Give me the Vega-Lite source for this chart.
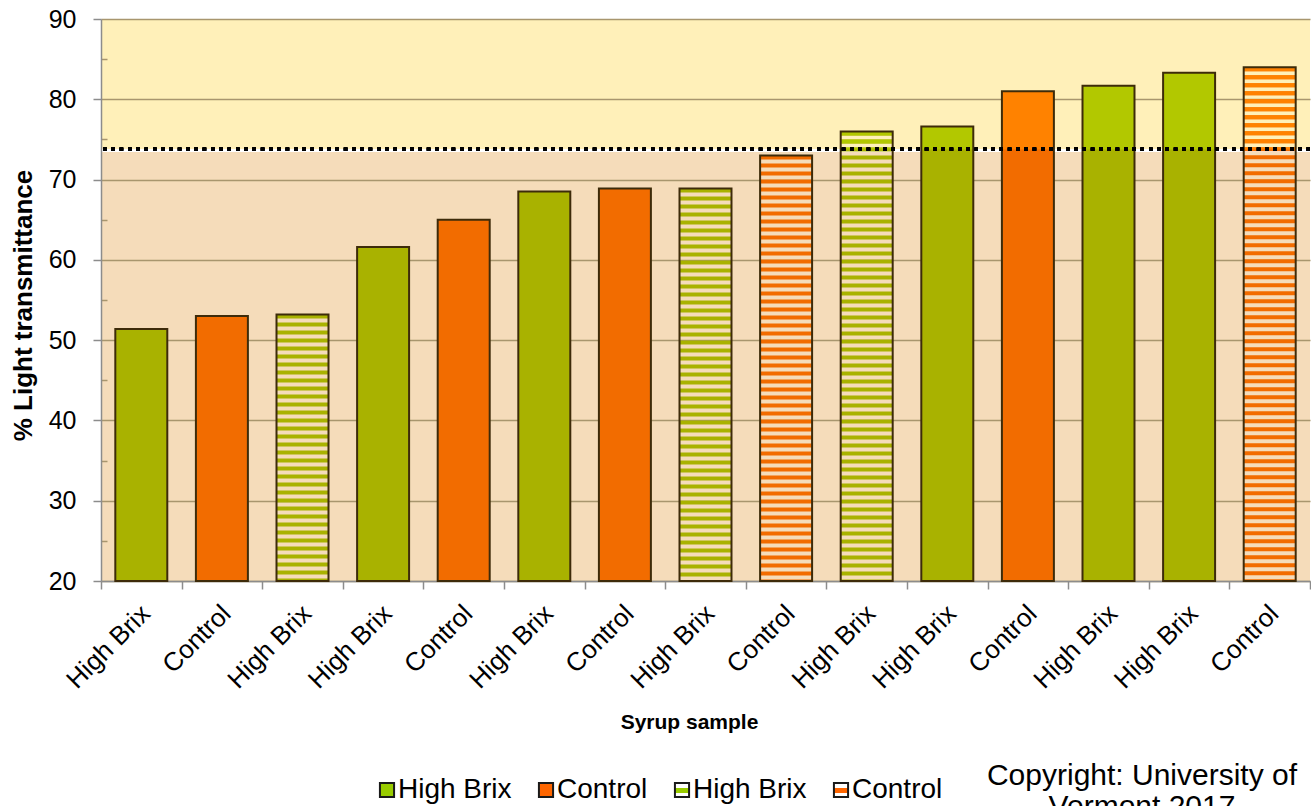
{
  "$schema": "https://vega.github.io/schema/vega-lite/v6.json",
  "width": 1209,
  "height": 562,
  "autosize": {"type": "none"},
  "padding": {"left": 101, "top": 19, "right": 1, "bottom": 225},
  "background": "white",
  "view": {
    "stroke": null,
    "fill": {
      "gradient": "linear", "x1": 0, "y1": 0, "x2": 0, "y2": 1,
      "stops": [
        {"offset": 0, "color": "#FFF0B9"},
        {"offset": 0.2313, "color": "#FFF0B9"},
        {"offset": 0.2313, "color": "#FFFFFF"},
        {"offset": 0.2367, "color": "#FFFFFF"},
        {"offset": 0.2367, "color": "#F5DCBA"},
        {"offset": 1, "color": "#F5DCBA"}
      ]
    }
  },
  "config": {
    "font": "Liberation Sans",
    "axis": {"labelColor": "black", "titleColor": "black", "labelFont": "Liberation Sans", "titleFont": "Liberation Sans"},
    "legend": {"labelFont": "Liberation Sans"}
  },
  "title": {
    "text": ["Copyright: University of", "Vermont 2017"],
    "orient": "bottom",
    "anchor": "end",
    "frame": "group",
    "align": "center",
    "dx": -168,
    "offset": -43,
    "fontSize": 30,
    "fontWeight": "normal",
    "font": "Liberation Sans",
    "color": "black",
    "lineHeight": 31
  },
  "data": {
    "values": [
      {"id": "01 High Brix", "crop": "High Brix", "kind": "solid", "legend": "1 High Brix", "value": 51.4},
      {"id": "02 Control", "crop": "Control", "kind": "solid", "legend": "2 Control", "value": 53.0},
      {"id": "03 High Brix", "crop": "High Brix", "kind": "striped", "legend": "3 High Brix", "value": 53.2},
      {"id": "04 High Brix", "crop": "High Brix", "kind": "solid", "legend": "1 High Brix", "value": 61.6},
      {"id": "05 Control", "crop": "Control", "kind": "solid", "legend": "2 Control", "value": 65.0},
      {"id": "06 High Brix", "crop": "High Brix", "kind": "solid", "legend": "1 High Brix", "value": 68.5},
      {"id": "07 Control", "crop": "Control", "kind": "solid", "legend": "2 Control", "value": 68.9},
      {"id": "08 High Brix", "crop": "High Brix", "kind": "striped", "legend": "3 High Brix", "value": 68.9},
      {"id": "09 Control", "crop": "Control", "kind": "striped", "legend": "4 Control", "value": 73.0},
      {"id": "10 High Brix", "crop": "High Brix", "kind": "striped", "legend": "3 High Brix", "value": 76.0},
      {"id": "11 High Brix", "crop": "High Brix", "kind": "solid", "legend": "1 High Brix", "value": 76.6},
      {"id": "12 Control", "crop": "Control", "kind": "solid", "legend": "2 Control", "value": 81.0},
      {"id": "13 High Brix", "crop": "High Brix", "kind": "solid", "legend": "1 High Brix", "value": 81.7},
      {"id": "14 High Brix", "crop": "High Brix", "kind": "solid", "legend": "1 High Brix", "value": 83.3},
      {"id": "15 Control", "crop": "Control", "kind": "striped", "legend": "4 Control", "value": 84.0}
    ]
  },
  "layer": [
    {
      "mark": {"type": "bar", "width": {"band": 0.645}, "stroke": "#1A1A1A", "strokeWidth": 2},
      "encoding": {
        "x": {
          "field": "id", "type": "nominal",
          "scale": {"paddingInner": 0, "paddingOuter": 0},
          "axis": {
            "title": "Syrup sample",
            "labelExpr": "substring(datum.label, 3)",
            "labelAngle": -45,
            "labelAlign": "right",
            "labelBaseline": "top",
            "labelFontSize": 26,
            "labelPadding": 11,
            "labelOffset": -5,
            "tickBand": "extent",
            "tickSize": 8,
            "tickWidth": 1.5,
            "tickColor": "#8C8C8C",
            "domainColor": "#8C8C8C",
            "domainWidth": 1.5,
            "grid": false,
            "titleFontSize": 21,
            "titleFontWeight": "bold",
            "titleX": 588,
            "titleY": 141,
            "titleBaseline": "middle"
          }
        },
        "y": {"datum": 20, "type": "quantitative"},
        "y2": {"datum": 20},
        "fill": {
          "field": "legend", "type": "nominal",
          "scale": {
            "domain": ["1 High Brix", "2 Control", "3 High Brix", "4 Control"],
            "range": [
              "#99CC00",
              "#FF6600",
              {"expr": "{gradient: 'linear', x1: 0, y1: 0, x2: 0, y2: 1, stops: [{offset: 0, color: '#FFFFFF'}, {offset: 0.38, color: '#FFFFFF'}, {offset: 0.38, color: '#99CC00'}, {offset: 0.68, color: '#99CC00'}, {offset: 0.68, color: '#FFFFFF'}, {offset: 1, color: '#FFFFFF'}]}"},
              {"expr": "{gradient: 'linear', x1: 0, y1: 0, x2: 0, y2: 1, stops: [{offset: 0, color: '#FFFFFF'}, {offset: 0.38, color: '#FFFFFF'}, {offset: 0.38, color: '#FF6600'}, {offset: 0.68, color: '#FF6600'}, {offset: 0.68, color: '#FFFFFF'}, {offset: 1, color: '#FFFFFF'}]}"}
            ]
          },
          "legend": {
            "orient": "none",
            "legendX": 272,
            "legendY": 757,
            "direction": "horizontal",
            "title": null,
            "labelExpr": "substring(datum.label, 2)",
            "labelFontSize": 28,
            "labelColor": "black",
            "labelOffset": -3,
            "columnPadding": 20,
            "symbolType": "square",
            "symbolSize": 200,
            "symbolStrokeColor": "#1A1A1A",
            "symbolStrokeWidth": 2,
            "symbolOpacity": 1
          }
        }
      }
    },
    {
      "transform": [{"filter": "datum.kind === 'solid'"}],
      "mark": {"type": "bar", "width": {"band": 0.645}, "stroke": null},
      "encoding": {
        "x": {"field": "id", "type": "nominal"},
        "y": {
          "field": "value", "type": "quantitative",
          "scale": {"domain": [20, 90], "nice": false, "zero": false},
          "axis": {
            "title": "% Light transmittance",
            "values": [20, 25, 30, 35, 40, 45, 50, 55, 60, 65, 70, 75, 80, 85, 90],
            "labelExpr": "datum.value % 10 === 0 ? datum.label : ''",
            "grid": true,
            "gridColor": {"condition": {"test": "datum.value % 10 === 0", "value": "#A8966E"}, "value": "transparent"},
            "gridWidth": 1.5,
            "tickSize": {"condition": {"test": "datum.value % 10 === 0", "value": 8}, "value": -6},
            "tickWidth": 1.5,
            "tickColor": {"condition": {"test": "datum.value % 10 === 0", "value": "#8C8C8C"}, "value": "#A8966E"},
            "domainColor": "#8C8C8C",
            "domainWidth": 1.5,
            "labelFontSize": 25,
            "labelPadding": 17,
            "titleFontSize": 26,
            "titleFontWeight": "bold",
            "titleX": -78,
            "titleY": 286,
            "titleBaseline": "middle",
            "titleAlign": "center"
          }
        },
        "y2": {"datum": 20},
        "fill": {
          "condition": {"test": "datum.crop === 'Control'", "value": "#F26C00"},
          "value": "#A9B200"
        }
      }
    },
    {
      "transform": [{"filter": "datum.kind === 'solid' && datum.value > 73.75"}],
      "mark": {"type": "bar", "width": {"band": 0.645}, "stroke": null},
      "encoding": {
        "x": {"field": "id", "type": "nominal"},
        "y": {"field": "value", "type": "quantitative"},
        "y2": {"datum": 73.75},
        "fill": {
          "condition": {"test": "datum.crop === 'Control'", "value": "#FF8200"},
          "value": "#B2C800"
        }
      }
    },
    {
      "transform": [{"filter": "datum.kind === 'striped'"}],
      "mark": {"type": "rule", "strokeWidth": 52, "strokeDash": [4, 4], "strokeCap": "butt"},
      "encoding": {
        "x": {"field": "id", "type": "nominal"},
        "y": {"field": "value", "type": "quantitative"},
        "y2": {"datum": 20},
        "stroke": {
          "condition": {"test": "datum.crop === 'Control'", "value": "#F26C00"},
          "value": "#A9B200"
        }
      }
    },
    {
      "transform": [{"filter": "datum.kind === 'striped' && datum.value > 73.75"}],
      "mark": {"type": "rule", "strokeWidth": 52, "strokeDash": [4, 4], "strokeCap": "butt"},
      "encoding": {
        "x": {"field": "id", "type": "nominal"},
        "y": {"field": "value", "type": "quantitative"},
        "y2": {"datum": 73.75},
        "stroke": {
          "condition": {"test": "datum.crop === 'Control'", "value": "#FF8200"},
          "value": "#B2C800"
        }
      }
    },
    {
      "mark": {"type": "bar", "width": {"band": 0.645}, "fill": "transparent", "stroke": "#3D2B0A", "strokeWidth": 2},
      "encoding": {
        "x": {"field": "id", "type": "nominal"},
        "y": {"field": "value", "type": "quantitative"},
        "y2": {"datum": 20}
      }
    },
    {
      "mark": {"type": "rule", "color": "black", "strokeWidth": 3.3, "strokeDash": [3.3, 5], "strokeCap": "butt"},
      "encoding": {
        "y": {"datum": 73.8, "type": "quantitative"}
      }
    }
  ]
}
